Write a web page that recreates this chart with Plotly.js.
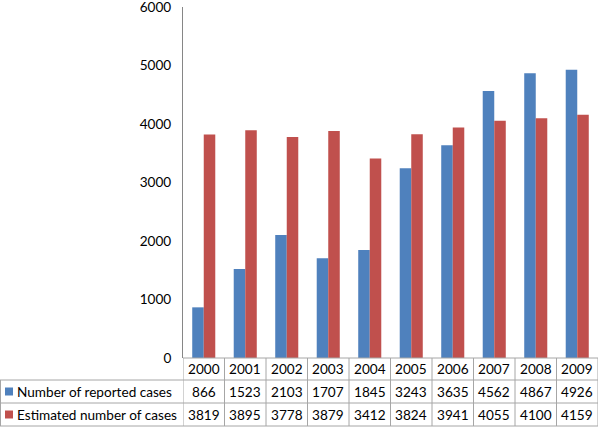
<!DOCTYPE html>
<html>
<head>
<meta charset="utf-8">
<script src="https://cdn.plot.ly/plotly-3.0.1.min.js"></script>
<style>html,body{margin:0;padding:0;background:#fff;}#chart{width:600px;height:427px;}</style>
</head>
<body>
<div id="chart"></div>
<script>
const years = ["2000","2001","2002","2003","2004","2005","2006","2007","2008","2009"];
const reported = [866, 1523, 2103, 1707, 1845, 3243, 3635, 4562, 4867, 4926];
const estimated = [3819, 3895, 3778, 3879, 3412, 3824, 3941, 4055, 4100, 4159];
const seriesNames = ["Number of reported cases", "Estimated number of cases"];
const colors = ["#4F81BD", "#C0504D"];

const W = 600, H = 427;
const M = {l: 183, r: 2, t: 7, b: 69};
const plotW = W - M.l - M.r, plotH = H - M.t - M.b;
const px2py = y => (H - M.b - y) / plotH;   // pixel y -> paper y
const px2px = x => (x - M.l) / plotW;       // pixel x -> paper x

const rowEdges = [358, 380, 403, 426];
const lineColor = "#A6A6A6";
const font = {family: "Lato, 'Open Sans', sans-serif", size: 13.6, color: "#000"};

const shapes = [];
const annotations = [];
for (let i = 0; i <= years.length; i++) {
  shapes.push({type: "line", xref: "x", yref: "paper", x0: i - 0.5, x1: i - 0.5,
    y0: px2py(rowEdges[0]), y1: px2py(rowEdges[3]), line: {color: lineColor, width: 1}});
}
shapes.push({type: "line", xref: "paper", yref: "paper", x0: px2px(0.5), x1: px2px(0.5),
  y0: px2py(rowEdges[1]), y1: px2py(rowEdges[3]), line: {color: lineColor, width: 1}});
shapes.push({type: "line", xref: "x", yref: "paper", x0: -0.5, x1: years.length - 0.5,
  y0: px2py(rowEdges[0]), y1: px2py(rowEdges[0]), line: {color: lineColor, width: 1}});
for (let r = 1; r < 4; r++) {
  shapes.push({type: "line", xref: "paper", yref: "paper", x0: px2px(0), x1: 1,
    y0: px2py(rowEdges[r]), y1: px2py(rowEdges[r]), line: {color: lineColor, width: 1}});
}
years.forEach((yr, i) => {
  annotations.push({xref: "x", yref: "paper", x: i, y: px2py((rowEdges[0] + rowEdges[1]) / 2),
    text: yr, showarrow: false, font: font, xanchor: "center", yanchor: "middle"});
});
const series = [reported, estimated];
series.forEach((vals, s) => {
  const yc = px2py((rowEdges[s + 1] + rowEdges[s + 2]) / 2);
  shapes.push({type: "rect", xref: "paper", yref: "paper",
    x0: px2px(5), x1: px2px(13), y0: yc - 4 / plotH, y1: yc + 4 / plotH,
    fillcolor: colors[s], line: {width: 0}});
  annotations.push({xref: "paper", yref: "paper", x: px2px(15), y: yc, text: seriesNames[s],
    showarrow: false, font: font, xanchor: "left", yanchor: "middle"});
  vals.forEach((v, i) => {
    annotations.push({xref: "x", yref: "paper", x: i, y: yc, text: String(v),
      showarrow: false, font: font, xanchor: "center", yanchor: "middle"});
  });
});

const data = series.map((vals, s) => ({
  type: "bar", x: years, y: vals, name: seriesNames[s],
  marker: {color: colors[s]}, hoverinfo: "x+y"
}));

const layout = {
  width: W, height: H, margin: M,
  paper_bgcolor: "#fff", plot_bgcolor: "#fff",
  showlegend: false, barmode: "group", bargap: 0.445, bargroupgap: 0,
  font: font,
  xaxis: {type: "category", range: [-0.5, 9.5], showticklabels: false, showgrid: false,
    zeroline: false, showline: false, ticks: ""},
  yaxis: {range: [0, 6000], tickvals: [0, 1000, 2000, 3000, 4000, 5000, 6000], showgrid: false, zeroline: false,
    showline: true, linecolor: "#868686", linewidth: 1, ticks: "", ticklabelstandoff: 8,
    ticklabeloverflow: "allow", tickfont: font},
  shapes: shapes, annotations: annotations
};
Plotly.newPlot("chart", data, layout, {displayModeBar: false, staticPlot: true});
</script>
</body>
</html>
